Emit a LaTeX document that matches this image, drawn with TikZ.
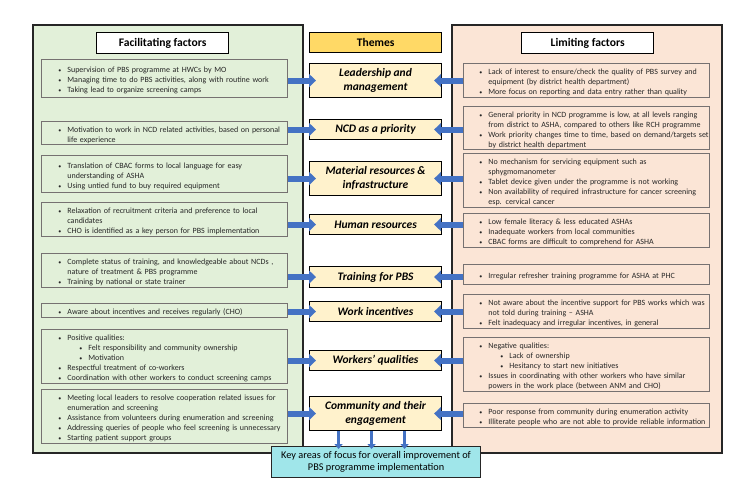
\documentclass[tikz,border=0pt]{standalone}
\usepackage{fontspec}
\setmainfont{Carlito}
\usetikzlibrary{arrows.meta,calc}
\definecolor{pgreen}{HTML}{E2F0D9}
\definecolor{ppeach}{HTML}{FBE5D6}
\definecolor{themecol}{HTML}{FFF2CC}
\definecolor{themehdr}{HTML}{FFD966}
\definecolor{keycol}{HTML}{A0E6EA}
\definecolor{arrblue}{HTML}{4472C4}
\definecolor{boxgray}{HTML}{767171}
\definecolor{txt}{HTML}{262626}
\newcommand{\bul}{{\fontsize{6}{10}\selectfont\textbullet}}
\newcommand{\bl}[1]{\par\hangindent=9pt\hangafter=1\noindent\makebox[9pt][l]{\bul}#1}
\newcommand{\sbl}[1]{\par\hangindent=30pt\hangafter=1\noindent\hspace*{21pt}\makebox[9pt][l]{\bul}#1}
\newcommand{\ibx}[7]{\node[ibox, minimum width=#4pt, minimum height=#5pt, text width=#4pt] (#1) at (#2,#3) {\leftskip=#6pt\rightskip=-20pt plus 1fil #7\par};}
\begin{document}
\begin{tikzpicture}[x=1pt,y=-1pt,
  panel/.style={line width=1.1pt, draw=black!85},
  ibox/.style={draw=boxgray, line width=0.8pt, anchor=north west, inner xsep=0pt, inner ysep=0pt, text=txt, font=\fontsize{8}{10}\selectfont, align=left},
  theme/.style={draw=black, line width=1.1pt, fill=themecol, anchor=north west, inner sep=0pt, minimum width=132pt, align=center, font=\fontsize{11.5}{14}\selectfont\bfseries\itshape},
  hdr/.style={draw=black, line width=1.3pt, fill=white, anchor=north west, inner sep=0pt, minimum width=132pt, minimum height=21pt, font=\fontsize{11.6}{13}\selectfont\bfseries},
  arr/.style={draw=arrblue, line width=6pt, -{Triangle[length=7pt,width=13pt]}},
  darr/.style={draw=arrblue, line width=3.5pt, -{Triangle[length=5pt,width=8pt]}},
  keybox/.style={draw=black!85, line width=1.1pt, fill=keycol, anchor=north west, inner sep=0pt, minimum width=209pt, minimum height=31pt, align=center, font=\fontsize{10.3}{11.5}\selectfont}
]
\useasboundingbox (0,0) rectangle (750,500);
\fill[white] (0,0) rectangle (750,500);
% panels
\draw[panel, fill=pgreen] (33,25) rectangle (303,453);
\draw[panel, fill=ppeach] (452,25) rectangle (722,453);
% headers
\node[hdr] (hf) at (96,32) {Facilitating factors};
\node[hdr, fill=themehdr, minimum height=20pt] (ht) at (309,32) {Themes};
\node[hdr] (hl) at (521,32) {Limiting factors};
% left boxes
\ibx{l1}{41}{59}{246}{38}{17}{\bl{Supervision of PBS programme at HWCs by MO}\bl{Managing time to do PBS activities, along with routine work}\bl{Taking lead to organize screening camps}}
\ibx{l2}{41}{121}{246}{23}{17}{\bl{Motivation to work in NCD related activities, based on personal\newline life experience}}
\ibx{l3}{41}{155}{246}{37}{17}{\bl{Translation of CBAC forms to local language for easy\newline understanding of ASHA}\bl{Using untied fund to buy required equipment}}
\ibx{l4}{41}{202}{246}{34}{17}{\bl{Relaxation of recruitment criteria and preference to local\newline candidates}\bl{CHO is identified as a key person for PBS implementation}}
\ibx{l5}{41}{253}{246}{34}{17}{\bl{Complete status of training, and knowledgeable about NCDs ,\newline nature of treatment \& PBS programme}\bl{Training by national or state trainer}}
\ibx{l6}{41}{303}{246}{14}{17}{\bl{Aware about incentives and receives regularly (CHO)}}
\ibx{l7}{41}{329}{246}{54}{17}{\bl{Positive qualities:}\sbl{Felt responsibility and community ownership}\sbl{Motivation}\bl{Respectful treatment of co-workers}\bl{Coordination with other workers to conduct screening camps}}
\ibx{l8}{41}{389}{246}{54}{17}{\bl{Meeting local leaders to resolve cooperation related issues for\newline enumeration and screening}\bl{Assistance from volunteers during enumeration and screening}\bl{Addressing queries of people who feel screening is unnecessary}\bl{Starting patient support groups}}
% right boxes
\ibx{r1}{463}{63}{246}{34}{16}{\bl{Lack of interest to ensure/check the quality of PBS survey and\newline equipment (by district health department)}\bl{More focus on reporting and data entry rather than quality}}
\ibx{r2}{463}{106}{246}{43}{16}{\bl{General priority in NCD programme is low, at all levels ranging\newline from district to ASHA, compared to others like RCH programme}\bl{Work priority changes time to time, based on demand/targets set\newline by district health department}}
\ibx{r3}{463}{153}{246}{54}{16}{\bl{No mechanism for servicing equipment such as\newline sphygmomanometer}\bl{Tablet device given under the programme is not working}\bl{Non availability of required infrastructure for cancer screening\newline esp. cervical cancer}}
\ibx{r4}{463}{213}{246}{34}{16}{\bl{Low female literacy \& less educated ASHAs}\bl{Inadequate workers from local communities}\bl{CBAC forms are difficult to comprehend for ASHA}}
\ibx{r5}{463}{264}{246}{20}{16}{\bl{Irregular refresher training programme for ASHA at PHC}}
\ibx{r6}{463}{294}{246}{34}{16}{\bl{Not aware about the incentive support for PBS works which was\newline not told during training – ASHA}\bl{Felt inadequacy and irregular incentives, in general}}
\ibx{r7}{463}{337}{246}{54}{16}{\bl{Negative qualities:}\sbl{Lack of ownership}\sbl{Hesitancy to start new initiatives}\bl{Issues in coordinating with other workers who have similar\newline powers in the work place (between ANM and CHO)}}
\ibx{r8}{463}{403}{246}{24}{16}{\bl{Poor response from community during enumeration activity}\bl{Illiterate people who are not able to provide reliable information}}
% themes
\node[theme, minimum height=34pt] (t1) at (309,63) {Leadership and\\management};
\node[theme, minimum height=20pt] (t2) at (309,119) {NCD as a priority};
\node[theme, minimum height=34pt] (t3) at (309,161) {Material resources \&\\infrastructure};
\node[theme, minimum height=20pt] (t4) at (309,214) {Human resources};
\node[theme, minimum height=21pt] (t5) at (309,266) {Training for PBS};
\node[theme, minimum height=20pt] (t6) at (309,301) {Work incentives};
\node[theme, minimum height=20pt] (t7) at (309,350) {Workers’ qualities};
\node[theme, minimum height=34pt] (t8) at (309,396) {Community and their\\engagement};
% arrows
\foreach \i in {1,...,8}{
  \draw[arr] (t\i.west -| l\i.east) -- ($(t\i.west)+(7,0)$);
  \draw[arr] (t\i.east -| r\i.west) -- ($(t\i.east)+(-8,0)$);
}
% key box
\node[keybox] (key) at (271,446) {Key areas of focus for overall improvement of\\PBS programme implementation};
\coordinate (d1) at ($(t8.south)+(-37,0)$);
\coordinate (d2) at ($(t8.south)+(-4,0)$);
\coordinate (d3) at ($(t8.south)+(29,0)$);
\foreach \d in {d1,d2,d3}{
  \draw[darr] (\d) -- ($(\d |- key.north)+(0,3)$);
}
\end{tikzpicture}
\end{document}
